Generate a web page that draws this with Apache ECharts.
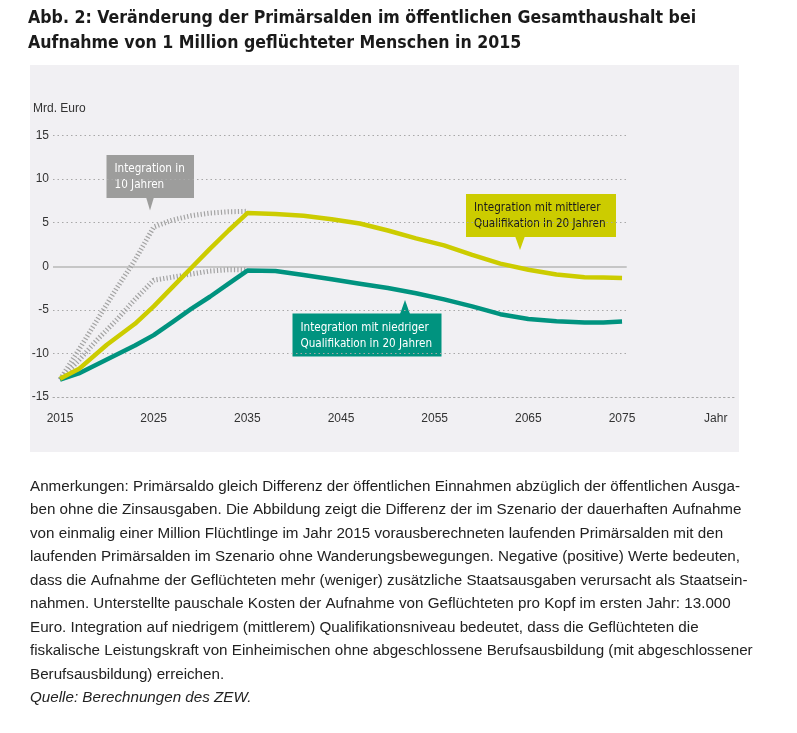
<!DOCTYPE html>
<html><head><meta charset="utf-8">
<script src="https://cdn.jsdelivr.net/npm/echarts@6/dist/echarts.min.js"></script>
<style>html,body{margin:0;padding:0;background:#fff}#c{width:797px;height:733px}</style>
</head><body><div id="c"></div>
<script>
// ---- data (Mrd. Euro) ----
const yearsMittel20 = [2015,2017,2020,2023,2025,2027,2029,2031,2033,2035,2038,2041,2044,2047,2050,2053,2056,2059,2062,2065,2068,2071,2073,2075];
const valsMittel20  = [-12.9,-11.8,-9.0,-6.6,-4.6,-2.4,-0.2,2.0,4.1,6.1,6.0,5.8,5.4,4.9,4.1,3.2,2.4,1.3,0.3,-0.4,-0.95,-1.25,-1.3,-1.35];
const yearsNiedrig20 = [2015,2017,2020,2023,2025,2027,2029,2031,2033,2035,2038,2041,2044,2047,2050,2053,2056,2059,2062,2065,2068,2071,2073,2075];
const valsNiedrig20  = [-13.0,-12.3,-10.7,-9.1,-7.9,-6.4,-4.9,-3.5,-2.0,-0.5,-0.55,-1.0,-1.5,-2.0,-2.5,-3.1,-3.8,-4.6,-5.5,-6.05,-6.3,-6.45,-6.45,-6.35];
const yearsMittel10 = [2015,2017,2019,2021,2023,2025,2027,2029,2031,2033,2035];
const valsMittel10  = [-13.0,-9.6,-6.1,-2.6,0.7,4.5,5.3,5.8,6.1,6.25,6.3];
const yearsNiedrig10 = [2015,2017,2019,2021,2023,2025,2027,2029,2031,2033,2035];
const valsNiedrig10  = [-13.0,-10.8,-8.4,-6.2,-3.8,-1.6,-1.25,-0.9,-0.55,-0.4,-0.4];
const xTickValues = [2015,2025,2035,2045,2055,2065,2075,2085];
const yTicks = [-15,-10,-5,0,5,10,15];
const gridLevels = [15,10,5,-5,-10];

const titleLines = ['Abb. 2: Veränderung der Primärsalden im öffentlichen Gesamthaushalt bei','Aufnahme von 1 Million geflüchteter Menschen in 2015'];
const noteLines = [
 'Anmerkungen: Primärsaldo gleich Differenz der öffentlichen Einnahmen abzüglich der öffentlichen Ausga-',
 'ben ohne die Zinsausgaben. Die Abbildung zeigt die Differenz der im Szenario der dauerhaften Aufnahme',
 'von einmalig einer Million Flüchtlinge im Jahr 2015 vorausberechneten laufenden Primärsalden mit den',
 'laufenden Primärsalden im Szenario ohne Wanderungsbewegungen. Negative (positive) Werte bedeuten,',
 'dass die Aufnahme der Geflüchteten mehr (weniger) zusätzliche Staatsausgaben verursacht als Staatsein-',
 'nahmen. Unterstellte pauschale Kosten der Aufnahme von Geflüchteten pro Kopf im ersten Jahr: 13.000',
 'Euro. Integration auf niedrigem (mittlerem) Qualifikationsniveau bedeutet, dass die Geflüchteten die',
 'fiskalische Leistungskraft von Einheimischen ohne abgeschlossene Berufsausbildung (mit abgeschlossener',
 'Berufsausbildung) erreichen.'
];
const sourceLine = 'Quelle: Berechnungen des ZEW.';

const X_MIN = 2014.25, X_MAX = 2087.06, X_GRID_END = 2075.5;
const YELLOW = '#cccc00', TEAL = '#00937f', GRAY = '#a3a3a3', GRAYBOX = '#9d9d9c';
const NARROW = "'DejaVu Sans Condensed','Liberation Sans Narrow',sans-serif";
const SANS = "'Liberation Sans','DejaVu Sans',sans-serif";

const zip = (a,b) => a.map((v,i)=>[v,b[i]]);

const chart = echarts.init(document.getElementById('c'), null, {renderer:'canvas'});

const markLines = gridLevels.map(v => [
  {coord:[X_MIN, v], lineStyle:{type:[1.5,3], color:'#a8a8a8', width:1}},
  {coord:[X_GRID_END, v]}
]);
markLines.push([{coord:[X_MIN,0], lineStyle:{type:'solid', color:'#c6c6c6', width:2}},{coord:[X_GRID_END,0]}]);

function callout(x,y,w,h,fill,color,lines,tri){
  return {type:'group', children:[
    {type:'rect', shape:{x:x,y:y,width:w,height:h}, style:{fill:fill}},
    {type:'polygon', shape:{points:tri}, style:{fill:fill}},
    {type:'text', x:x+8, y:y+6, style:{text:lines.join('\n'), fill:color, font:'11.6px '+NARROW, lineHeight:16}}
  ]};
}

const graphics = [
  {type:'rect', z:-10, shape:{x:30,y:65,width:709,height:387}, style:{fill:'#f1f0f3'}},
  {type:'text', left:28, top:6, style:{text:titleLines.join('\n'), font:'bold 17.6px '+NARROW, fill:'#1a1a1a', lineHeight:25}},
  {type:'text', left:33, top:103, style:{text:'Mrd. Euro', font:'12px '+SANS, fill:'#333'}},
  callout(106.5,155,87.5,43,GRAYBOX,'#fff',['Integration in','10 Jahren'],[[146,197],[154,197],[150,210.5]]),
  callout(466,194,150,43,YELLOW,'#1a1a1a',['Integration mit mittlerer','Qualifikation in 20 Jahren'],[[515,236],[525,236],[520,250]]),
  callout(292.5,313.5,149,43,TEAL,'#fff',['Integration mit niedriger','Qualifikation in 20 Jahren'],[[400,314],[410,314],[405,300]]),
  {type:'text', left:30, top:475, style:{text:noteLines.join('\n'), font:'15.2px '+SANS, fill:'#222', lineHeight:23.5}},
  {type:'text', left:30, top:475+9*23.5, style:{text:sourceLine, font:'italic 15.2px '+SANS, fill:'#222', lineHeight:23.5}}
];

chart.setOption({
  animation:false,
  backgroundColor:'#fff',
  grid:{left:53, right:62, top:135.5, bottom:336, containLabel:false},
  xAxis:{type:'value', min:X_MIN, max:X_MAX,
    splitLine:{show:false}, axisTick:{show:false},
    axisLine:{show:true, onZero:false, lineStyle:{type:[1.5,3], color:'#a8a8a8', width:1}},
    axisLabel:{customValues:xTickValues, margin:16, color:'#333', fontFamily:SANS, fontSize:12,
      formatter:v => v===2085 ? 'Jahr' : String(v)}},
  yAxis:{type:'value', min:-15, max:15, interval:5,
    splitLine:{show:false}, axisLine:{show:false}, axisTick:{show:false},
    axisLabel:{margin:4, color:'#333', fontFamily:SANS, fontSize:12}},
  series:[
    {type:'line', data:zip(yearsNiedrig10,valsNiedrig10), symbol:'none', z:2,
      lineStyle:{color:GRAY, width:5, type:[1.2,2.2]}},
    {type:'line', data:zip(yearsMittel10,valsMittel10), symbol:'none', z:2,
      lineStyle:{color:GRAY, width:5, type:[1.2,2.2]}},
    {type:'line', data:zip(yearsNiedrig20,valsNiedrig20), symbol:'none', z:3,
      lineStyle:{color:TEAL, width:4.5, join:'round'},
      markLine:{silent:true, symbol:['none','none'], label:{show:false}, z:1, data:markLines}},
    {type:'line', data:zip(yearsMittel20,valsMittel20), symbol:'none', z:4,
      lineStyle:{color:YELLOW, width:4.5, join:'round'}}
  ],
  graphic:graphics
});
</script></body></html>
